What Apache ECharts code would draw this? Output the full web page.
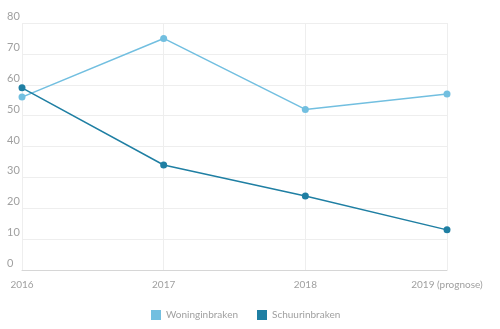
<!DOCTYPE html>
<html><head><meta charset="utf-8">
<script src="https://cdn.jsdelivr.net/npm/echarts@6/dist/echarts.min.js"></script>
<style>html,body{margin:0;padding:0;background:#fff}#c{width:500px;height:329px}</style>
</head><body><div id="c"></div>
<script>
const categories = ['2016', '2017', '2018', '2019 (prognose)'];
const woninginbraken = [56, 75, 52, 57];
const schuurinbraken = [59, 34, 24, 13];
const yTicks = {min: 0, max: 80, interval: 10};

const chart = echarts.init(document.getElementById('c'));
const font = 'Lato';
chart.setOption({
  animation: false,
  grid: {left: 22, right: 53, top: 23, bottom: 59, containLabel: false},
  legend: {
    bottom: 4, left: 146, icon: 'rect', itemWidth: 10, itemHeight: 10, itemGap: 19,
    textStyle: {color: '#a0a0a0', fontSize: 10, fontFamily: font},
    data: ['Woninginbraken', 'Schuurinbraken']
  },
  xAxis: {
    type: 'category', data: categories, boundaryGap: false,
    axisLine: {lineStyle: {color: '#d6d6d6'}},
    axisTick: {show: false},
    splitLine: {show: true, lineStyle: {color: '#eeeeee'}},
    axisLabel: {color: '#a0a0a0', fontSize: 10, fontFamily: font, margin: 10}
  },
  yAxis: {
    type: 'value', min: yTicks.min, max: yTicks.max, interval: yTicks.interval,
    axisLine: {show: false}, axisTick: {show: false},
    splitLine: {lineStyle: {color: '#eeeeee'}},
    axisLabel: {color: '#a0a0a0', fontSize: 11, fontFamily: font, align: 'left', margin: 15, verticalAlign: 'bottom', padding: [0, 0, 1, 0]}
  },
  series: [
    {name: 'Woninginbraken', type: 'line', data: woninginbraken, symbol: 'circle', symbolSize: 7,
     itemStyle: {color: '#72bfe0'}, lineStyle: {width: 1.5, color: '#72bfe0'}},
    {name: 'Schuurinbraken', type: 'line', data: schuurinbraken, symbol: 'circle', symbolSize: 7,
     itemStyle: {color: '#1f7fa3'}, lineStyle: {width: 1.5, color: '#1f7fa3'}}
  ]
});
</script></body></html>
